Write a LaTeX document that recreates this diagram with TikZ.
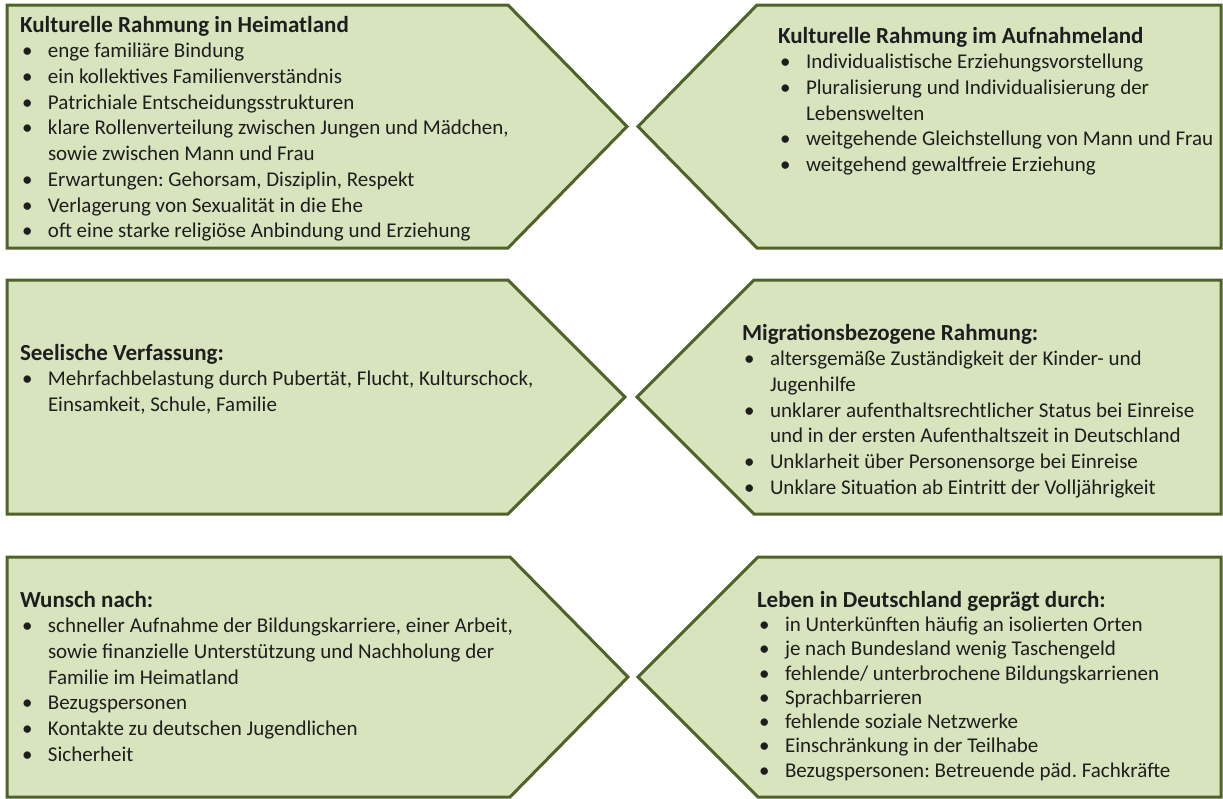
\documentclass[tikz,border=0pt]{standalone}
\usepackage{fontspec}
\setmainfont{Carlito}
\frenchspacing
\definecolor{olivefill}{HTML}{D7E4BD}
\definecolor{olivedraw}{HTML}{4F6228}
\definecolor{inkgray}{HTML}{1E1E1E}
\newcommand{\itm}{\makebox[28pt][l]{\hspace{2pt}\textbullet}}
\newcommand{\cont}{\hspace*{28pt}}
\newcommand{\hd}[1]{{\fontsize{23}{25.7}\selectfont\textbf{#1}}}

\begin{document}
\begin{tikzpicture}[x=1pt,y=-1pt]
	\tikzstyle{every node}=[inner sep=0pt,outer sep=0pt]
	\tikzstyle{panel}=[draw=olivedraw,line width=3pt,fill=olivefill,line join=miter]
	\tikzstyle{blurb}=[anchor=north west,align=left,text=inkgray,font=\fontsize{21}{25.7}\selectfont]

  \useasboundingbox (0,0) rectangle (1223,798);

  % Heimatland / Aufnahmeland
  \draw[panel] (7,5) -- (508,5) -- (627,126.5) -- (508,248) -- (7,248) -- cycle;
  \draw[panel] (1221,5) -- (757,5) -- (638,126.5) -- (757,248) -- (1221,248) -- cycle;
  % Verfassung / Migration
  \draw[panel] (7,280) -- (508,280) -- (625,397) -- (508,514) -- (7,514) -- cycle;
  \draw[panel] (1221,280) -- (754,280) -- (637,397) -- (754,514) -- (1221,514) -- cycle;
  % Wunsch / Leben
  \draw[panel] (7,557) -- (510,557) -- (628,677) -- (510,797) -- (7,797) -- cycle;
  \draw[panel] (1221,557) -- (758,557) -- (638,677) -- (758,797) -- (1221,797) -- cycle;

  \node[blurb] (a) at (20,16) {\hd{Kulturelle Rahmung in Heimatland}\\
    \itm enge familiäre Bindung\\
    \itm ein kollektives Familienverständnis\\
    \itm Patrichiale Entscheidungsstrukturen\\
    \itm klare Rollenverteilung zwischen Jungen und Mädchen,\\
    \cont sowie zwischen Mann und Frau\\
    \itm Erwartungen: Gehorsam, Disziplin, Respekt\\
    \itm Verlagerung von Sexualität in die Ehe\\
    \itm oft eine starke religiöse Anbindung und Erziehung};
  \node[blurb] (b) at (778,27) {\hd{Kulturelle Rahmung im Aufnahmeland}\\
    \itm Individualistische Erziehungsvorstellung\\
    \itm Pluralisierung und Individualisierung der\\
    \cont Lebenswelten\\
    \itm weitgehende Gleichstellung von Mann und Frau\\
    \itm weitgehend gewaltfreie Erziehung};
  \node[blurb] (c) at (20,344) {\hd{Seelische Verfassung:}\\
    \itm Mehrfachbelastung durch Pubertät, Flucht, Kulturschock,\\
    \cont Einsamkeit, Schule, Familie};
  \node[blurb] (d) at (742,324) {\hd{Migrationsbezogene Rahmung:}\\
    \itm altersgemäße Zuständigkeit der Kinder- und\\
    \cont Jugenhilfe\\
    \itm unklarer aufenthaltsrechtlicher Status bei Einreise\\
    \cont und in der ersten Aufenthaltszeit in Deutschland\\
    \itm Unklarheit über Personensorge bei Einreise\\
    \itm Unklare Situation ab Eintritt der Volljährigkeit};
  \node[blurb] (e) at (20,591) {\hd{Wunsch nach:}\\
    \itm schneller Aufnahme der Bildungskarriere, einer Arbeit,\\
    \cont sowie finanzielle Unterstützung und Nachholung der\\
    \cont Familie im Heimatland\\
    \itm Bezugspersonen\\
    \itm Kontakte zu deutschen Jugendlichen\\
    \itm Sicherheit};
  \node[blurb,font=\fontsize{21}{24.3}\selectfont] (f) at (757,591) {\hd{Leben in Deutschland geprägt durch:}\\
    \itm in Unterkünften häufig an isolierten Orten\\
    \itm je nach Bundesland wenig Taschengeld\\
    \itm fehlende/ unterbrochene Bildungskarrienen\\
    \itm Sprachbarrieren\\
    \itm fehlende soziale Netzwerke\\
    \itm Einschränkung in der Teilhabe\\
    \itm Bezugspersonen: Betreuende päd. Fachkräfte};

\end{tikzpicture}
\end{document}
